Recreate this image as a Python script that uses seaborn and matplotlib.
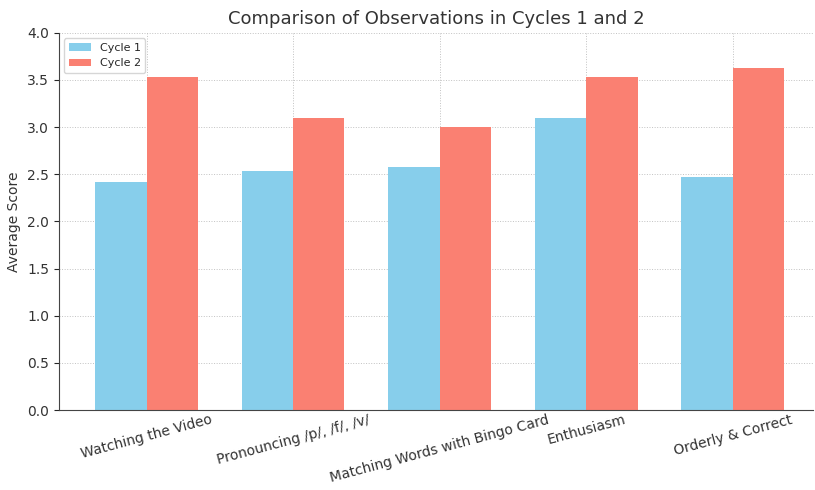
import pandas as pd
import matplotlib
matplotlib.use('Agg')
import matplotlib.pyplot as plt
import seaborn as sns

categories = ['Watching the Video', 'Pronouncing /p/, /f/, /v/', 'Matching Words with Bingo Card',
              'Enthusiasm', 'Orderly & Correct']
cycle1 = [2.42, 2.53, 2.58, 3.10, 2.47]
cycle2 = [3.53, 3.10, 3.00, 3.53, 3.63]

df = pd.DataFrame({'Observation': categories * 2,
                   'Cycle': ['Cycle 1'] * 5 + ['Cycle 2'] * 5,
                   'Score': cycle1 + cycle2})

sns.set_style('ticks')
plt.rcParams['font.family'] = ['DejaVu Sans']

fig, ax = plt.subplots(figsize=(8.15, 4.9), dpi=100)
sns.barplot(data=df, x='Observation', y='Score', hue='Cycle',
            palette=['skyblue', 'salmon'], width=0.7, saturation=1,
            linewidth=0, ax=ax)

ax.set_ylim(0, 4.0)
ax.set_xlim(-0.6, 4.55)
ax.set_title('Comparison of Observations in Cycles 1 and 2', fontsize=13, color='#333333')
ax.set_xlabel('')
ax.set_ylabel('Average Score', fontsize=10, color='#333333')
ax.grid(True, linestyle=':', linewidth=0.7, color='#bbbbbb', alpha=0.9)
ax.set_axisbelow(True)
plt.setp(ax.get_xticklabels(), rotation=15, ha='center', fontsize=10, color='#333333')
plt.setp(ax.get_yticklabels(), fontsize=10, color='#333333')
ax.tick_params(axis='x', length=0, pad=2)
for s in ['top', 'right']:
    ax.spines[s].set_visible(False)
ax.spines['left'].set_color('#444444')
ax.spines['bottom'].set_color('#444444')
ax.legend(loc='upper left', fontsize=8, title=None, frameon=True)

fig.subplots_adjust(left=0.072, right=0.998, top=0.933, bottom=0.163)
fig.savefig('out.png', dpi=100)
